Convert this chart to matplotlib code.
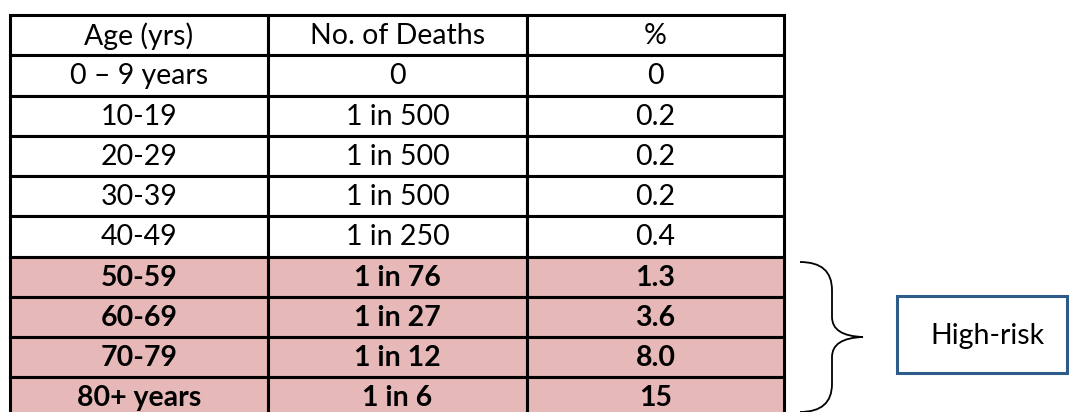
import matplotlib.pyplot as plt
from matplotlib.patches import Rectangle, PathPatch
from matplotlib.path import Path

# ---------- Data ----------
headers = ['Age (yrs)', 'No. of Deaths', '%']
ages = ['0 – 9 years', '10-19', '20-29', '30-39', '40-49',
        '50-59', '60-69', '70-79', '80+ years']
deaths = ['0', '1 in 500', '1 in 500', '1 in 500', '1 in 250',
          '1 in 76', '1 in 27', '1 in 12', '1 in 6']
percent = ['0', '0.2', '0.2', '0.2', '0.4', '1.3', '3.6', '8.0', '15']
high_risk = [False, False, False, False, False, True, True, True, True]
label = 'High-risk'

# ---------- Layout (pixels) ----------
W, H = 1069, 412
COL_X = [10, 268, 527, 784]
TOP = 15
ROW_H = 40.25
PINK = '#E6B8B7'
FONT = ['Lato', 'DejaVu Sans']
FS = 20.5

fig = plt.figure(figsize=(W / 100, H / 100), dpi=100)
ax = fig.add_axes([0, 0, 1, 1])
ax.set_xlim(0, W)
ax.set_ylim(H, 0)
ax.axis('off')

rows = [(headers, False)] + [([a, d, p], hr) for a, d, p, hr in zip(ages, deaths, percent, high_risk)]

for i, (cells, hr) in enumerate(rows):
    y0 = TOP + i * ROW_H
    for j, txt in enumerate(cells):
        x0, x1 = COL_X[j], COL_X[j + 1]
        ax.add_patch(Rectangle((x0, y0), x1 - x0, ROW_H,
                               facecolor=PINK if hr else 'white',
                               edgecolor='black', linewidth=2.2, zorder=1))
        ax.text((x0 + x1) / 2, y0 + ROW_H / 2 + 1, txt, ha='center', va='center',
                fontsize=FS, family=FONT, fontweight='bold' if hr else 'normal',
                color='black', zorder=3)

# curly brace next to the high-risk rows
bt, bb = 262, 412
bm = (bt + bb) / 2
xe, xv, xt = 800, 832, 863
verts = [(xe, bt), (xv, bt), (xv, bt + 28),
         (xv, bm - 20),
         (xv, bm - 1), (xt, bm),
         (xv, bm + 1), (xv, bm + 20),
         (xv, bb - 28),
         (xv, bb), (xe, bb)]
codes = [Path.MOVETO, Path.CURVE3, Path.CURVE3,
         Path.LINETO,
         Path.CURVE3, Path.CURVE3,
         Path.CURVE3, Path.CURVE3,
         Path.LINETO,
         Path.CURVE3, Path.CURVE3]
ax.add_patch(PathPatch(Path(verts, codes), facecolor='none',
                       edgecolor='black', linewidth=1.3, zorder=2))

# label box
ax.add_patch(Rectangle((897, 296), 1067 - 897, 373 - 296, facecolor='white',
                       edgecolor='#2E5C8A', linewidth=2.2, zorder=2))
ax.text(987, 336, label, ha='center', va='center', fontsize=FS,
        family=FONT, color='black', zorder=3)

fig.savefig('out.png', dpi=100)
